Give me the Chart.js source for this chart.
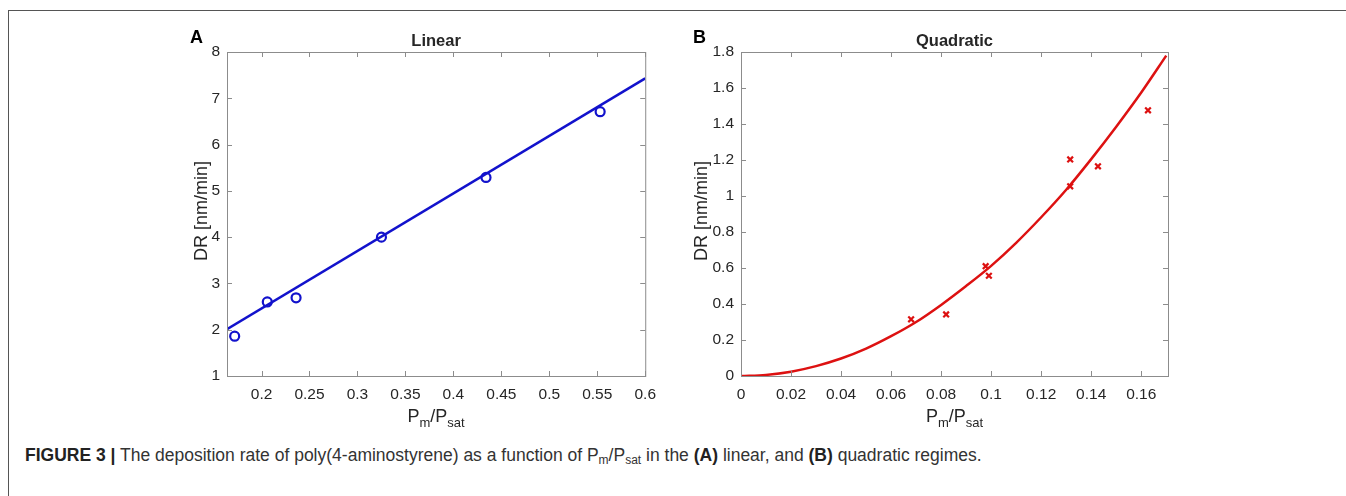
<!DOCTYPE html>
<html lang="en">
<head>
    <meta charset="UTF-8">
    <title>Deposition rate of poly(4-aminostyrene)</title>
    <script src="https://cdn.jsdelivr.net/npm/chart.js"></script>
    <style>
        body { margin: 0; padding: 0; background: #fff; width: 1346px; height: 496px; overflow: hidden; position: relative; font-family: "Liberation Sans", Arial, sans-serif; }
        #frame { position: absolute; left: 8px; top: 10px; right: 0; bottom: 0; border-left: 1.5px solid #555; border-top: 1.5px solid #555; }
        .panel { position: absolute; top: 0; height: 430px; }
        #panelA { left: 150px; width: 515px; }
        #panelB { left: 665px; width: 520px; }
        #caption { position: absolute; left: 25px; top: 445px; font-size: 17.5px; color: #333; white-space: nowrap; }
        #caption b { color: #222; }
        #caption sub { font-size: 12px; vertical-align: -3px; line-height: 0; }
    </style>
</head>
<body>

<div id="frame"></div>
<div class="panel" id="panelA"><canvas id="chartA"></canvas></div>
<div class="panel" id="panelB"><canvas id="chartB"></canvas></div>
<div id="caption"><b>FIGURE 3 |</b> The deposition rate of poly(4-aminostyrene) as a function of P<sub>m</sub>/P<sub>sat</sub> in the <b>(A)</b> linear, and <b>(B)</b> quadratic regimes.</div>

<script>
    // Panel A - linear regime (measured points + fitted line)
    const linearX = [0.172, 0.206, 0.236, 0.325, 0.434, 0.553];
    const linearY = [1.86, 2.60, 2.69, 4.00, 5.29, 6.71];
    const linearFitX = [0.164, 0.6];
    const linearFitY = [2.01, 7.43];
    const linearXTicks = [0.2, 0.25, 0.3, 0.35, 0.4, 0.45, 0.5, 0.55, 0.6];
    const linearYTicks = [1, 2, 3, 4, 5, 6, 7, 8];

    const quadX = [0.068, 0.082, 0.0978, 0.0991, 0.1316, 0.1316, 0.1427, 0.1627];
    const quadY = [0.315, 0.342, 0.610, 0.557, 1.203, 1.054, 1.165, 1.476];
    const quadFitX = [0, 0.01, 0.02, 0.03, 0.04, 0.05, 0.06, 0.07, 0.08, 0.09, 0.10, 0.11, 0.12, 0.13, 0.14, 0.15, 0.16, 0.17];
    const quadFitY = [0, 0.006, 0.024, 0.055, 0.097, 0.152, 0.221, 0.30, 0.395, 0.50, 0.612, 0.74, 0.882, 1.035, 1.205, 1.385, 1.575, 1.78];
    const quadXTicks = [0, 0.02, 0.04, 0.06, 0.08, 0.1, 0.12, 0.14, 0.16];
    const quadYTicks = [0, 0.2, 0.4, 0.6, 0.8, 1, 1.2, 1.4, 1.6, 1.8];

    const FONT = "'Liberation Sans', Arial, sans-serif";
    const AXIS_GREY = '#8c8c8c';
    const TEXT = '#262626';

    function toPoints(xs, ys) {
        return xs.map((x, i) => ({ x: x, y: ys[i] }));
    }

    function fmt(v) {
        return String(+v.toFixed(4));
    }

    // MATLAB-ish box with ticks pointing inward on all four sides
    const boxPlugin = {
        id: 'box',
        afterDraw(chart) {
            const { ctx, chartArea: a, scales } = chart;
            ctx.save();
            ctx.strokeStyle = AXIS_GREY;
            ctx.lineWidth = 1;
            ctx.strokeRect(a.left + 0.5, a.top + 0.5, a.right - a.left, a.bottom - a.top);
            ctx.beginPath();
            scales.x.ticks.forEach(t => {
                const px = Math.round(scales.x.getPixelForValue(t.value)) + 0.5;
                ctx.moveTo(px, a.bottom); ctx.lineTo(px, a.bottom - 5);
                ctx.moveTo(px, a.top); ctx.lineTo(px, a.top + 5);
            });
            scales.y.ticks.forEach(t => {
                const py = Math.round(scales.y.getPixelForValue(t.value)) + 0.5;
                ctx.moveTo(a.left, py); ctx.lineTo(a.left + 5, py);
                ctx.moveTo(a.right, py); ctx.lineTo(a.right - 5, py);
            });
            ctx.stroke();
            ctx.restore();
        }
    };

    // panel letter, title and axis labels (with subscripts)
    const labelPlugin = {
        id: 'labels',
        afterDraw(chart, args, opts) {
            const { ctx, chartArea: a } = chart;
            const cx = (a.left + a.right) / 2;
            ctx.save();
            ctx.fillStyle = '#000';
            ctx.textBaseline = 'alphabetic';
            ctx.font = 'bold 18px ' + FONT;
            ctx.textAlign = 'left';
            ctx.fillText(opts.letter, opts.letterX, 43);

            ctx.fillStyle = TEXT;
            ctx.font = 'bold 16.5px ' + FONT;
            ctx.textAlign = 'center';
            ctx.fillText(opts.title, cx, 46);

            // y label
            ctx.font = '18px ' + FONT;
            ctx.save();
            ctx.translate(a.left - opts.yLabelGap, (a.top + a.bottom) / 2 - 3);
            ctx.rotate(-Math.PI / 2);
            ctx.textAlign = 'center';
            ctx.fillText('DR [nm/min]', 0, 0);
            ctx.restore();

            // x label: P_m/P_sat
            const base = a.bottom + 46;
            const parts = [['P', 18, 0], ['m', 13, 5], ['/P', 18, 0], ['sat', 13, 5]];
            let total = 0;
            parts.forEach(p => { ctx.font = p[1] + 'px ' + FONT; total += ctx.measureText(p[0]).width; });
            let x = cx - total / 2;
            ctx.textAlign = 'left';
            parts.forEach(p => {
                ctx.font = p[1] + 'px ' + FONT;
                ctx.fillText(p[0], x, base + p[2]);
                x += ctx.measureText(p[0]).width;
            });
            ctx.restore();
        }
    };

    function makeChart(id, cfg) {
        return new Chart(document.getElementById(id), {
            type: 'scatter',
            data: {
                datasets: [
                    {
                        data: toPoints(cfg.fitX, cfg.fitY),
                        showLine: true,
                        borderColor: cfg.color,
                        borderWidth: 2.5,
                        pointRadius: 0,
                        cubicInterpolationMode: 'monotone',
                        fill: false
                    },
                    {
                        data: toPoints(cfg.ptsX, cfg.ptsY),
                        showLine: false,
                        pointStyle: cfg.marker,
                        pointRadius: cfg.markerSize,
                        pointBorderWidth: 2.2,
                        pointBorderColor: cfg.color,
                        pointBackgroundColor: 'rgba(0,0,0,0)'
                    }
                ]
            },
            options: {
                responsive: true,
                maintainAspectRatio: false,
                animation: false,
                layout: { padding: { top: 52, right: cfg.padRight, left: 0, bottom: 0 } },
                plugins: {
                    legend: { display: false },
                    tooltip: { enabled: false },
                    labels: { letter: cfg.letter, letterX: cfg.letterX, title: cfg.title, yLabelGap: cfg.yLabelGap }
                },
                scales: {
                    x: {
                        type: 'linear',
                        min: cfg.xMin, max: cfg.xMax,
                        grid: { display: false, drawTicks: false },
                        border: { display: false },
                        afterFit(s) { s.height = 54; },
                        afterBuildTicks(s) { s.ticks = cfg.xTicks.map(v => ({ value: v })); },
                        ticks: {
                            padding: 9,
                            color: TEXT,
                            font: { family: FONT, size: 15.5 },
                            maxRotation: 0,
                            autoSkip: false,
                            callback: v => fmt(v)
                        }
                    },
                    y: {
                        type: 'linear',
                        min: cfg.yMin, max: cfg.yMax,
                        grid: { display: false, drawTicks: false },
                        border: { display: false },
                        afterFit(s) { s.width = cfg.yWidth; },
                        afterBuildTicks(s) { s.ticks = cfg.yTicks.map(v => ({ value: v })); },
                        ticks: {
                            padding: 7,
                            color: TEXT,
                            font: { family: FONT, size: 15.5 },
                            autoSkip: false,
                            callback: v => fmt(v)
                        }
                    }
                }
            },
            plugins: [boxPlugin, labelPlugin]
        });
    }

    makeChart('chartA', {
        fitX: linearFitX, fitY: linearFitY, ptsX: linearX, ptsY: linearY,
        xTicks: linearXTicks, yTicks: linearYTicks,
        color: '#1212cc', marker: 'circle', markerSize: 4.5,
        xMin: 0.164, xMax: 0.6, yMin: 1, yMax: 8,
        yWidth: 77, padRight: 13, letter: 'A', letterX: 40, title: 'Linear', yLabelGap: 20
    });

    makeChart('chartB', {
        fitX: quadFitX, fitY: quadFitY, ptsX: quadX, ptsY: quadY,
        xTicks: quadXTicks, yTicks: quadYTicks,
        color: '#dd1111', marker: 'crossRot', markerSize: 4,
        xMin: 0, xMax: 0.1707, yMin: 0, yMax: 1.8,
        yWidth: 76, padRight: 17, letter: 'B', letterX: 28, title: 'Quadratic', yLabelGap: 34
    });
</script>

</body>
</html>
